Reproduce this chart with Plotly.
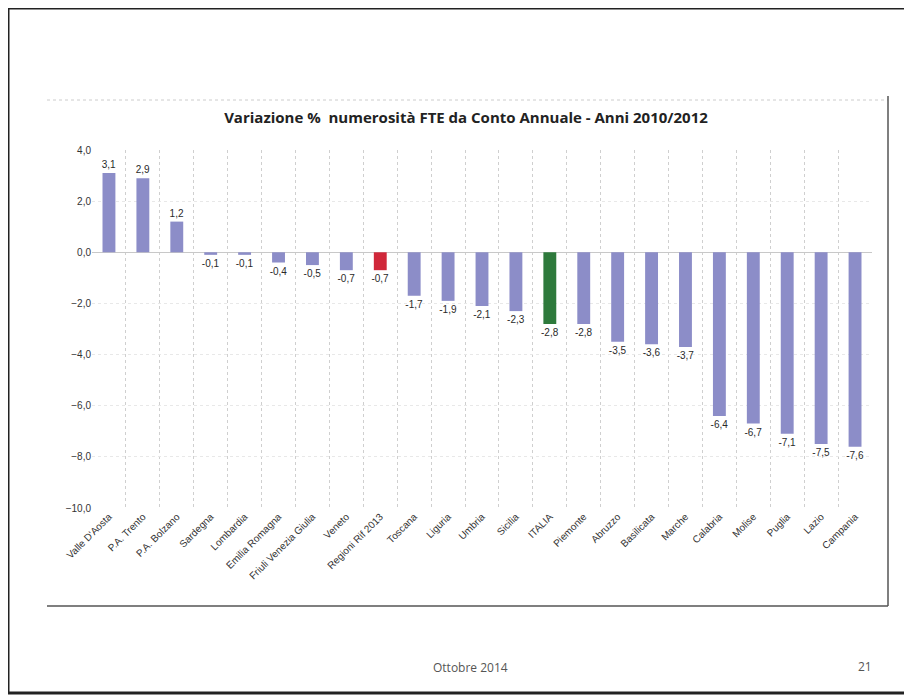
import plotly.graph_objects as go

categories = ["Valle D'Aosta", "P.A. Trento", "P.A. Bolzano", "Sardegna", "Lombardia",
              "Emilia Romagna", "Friuli Venezia Giulia", "Veneto", "Regioni Rif 2013",
              "Toscana", "Liguria", "Umbria", "Sicilia", "ITALIA", "Piemonte", "Abruzzo",
              "Basilicata", "Marche", "Calabria", "Molise", "Puglia", "Lazio", "Campania"]
values = [3.1, 2.9, 1.2, -0.1, -0.1, -0.4, -0.5, -0.7, -0.7, -1.7, -1.9, -2.1, -2.3,
          -2.8, -2.8, -3.5, -3.6, -3.7, -6.4, -6.7, -7.1, -7.5, -7.6]
y_ticks = [4, 2, 0, -2, -4, -6, -8, -10]

BASE = "#8C8DC8"
RED = "#D0283A"
GREEN = "#2E7A3C"
colors = [RED if c == "Regioni Rif 2013" else GREEN if c == "ITALIA" else BASE for c in categories]

# page has an 8px body margin: figure is drawn at (8, 8)
OFF = 8
W, H = 912 - OFF, 696 - OFF
L, R, T, B = 92 - OFF, 40, 150 - OFF, 188
pw, ph = W - L - R, H - T - B


def px(x):
    return (x - OFF - L) / pw


def py(y):
    return (H - B - (y - OFF)) / ph


fig = go.Figure(go.Bar(
    x=categories, y=values, marker=dict(color=colors, line=dict(width=0)),
    texttemplate="%{y:.1f}", textposition="outside", cliponaxis=False,
    constraintext="none",
    textfont=dict(family="Liberation Sans", size=10, color="#2A2A2A"),
    width=0.38,
))

line_dark = dict(color="#222222", width=3)
shapes = [
    # slide frame
    dict(type="line", xref="paper", yref="paper", x0=px(7), x1=px(912), y0=py(8), y1=py(8), line=line_dark),
    dict(type="line", xref="paper", yref="paper", x0=px(8), x1=px(8), y0=py(7), y1=py(694), line=line_dark),
    dict(type="line", xref="paper", yref="paper", x0=px(8), x1=px(912), y0=py(693), y1=py(693), line=line_dark),
    # chart box
    dict(type="line", xref="paper", yref="paper", x0=px(47), x1=px(888), y0=py(100), y1=py(100),
         line=dict(color="#CCCCCC", width=1, dash="dot")),
    dict(type="line", xref="paper", yref="paper", x0=px(888), x1=px(888), y0=py(96), y1=py(606),
         line=dict(color="#555555", width=1.5)),
    dict(type="line", xref="paper", yref="paper", x0=px(47), x1=px(888), y0=py(606), y1=py(606),
         line=dict(color="#555555", width=1.5)),
]

fig.update_layout(
    width=W, height=H,
    margin=dict(l=L, r=R, t=T, b=B),
    paper_bgcolor="white", plot_bgcolor="white",
    separators=",.",
    showlegend=False,
    bargap=0.6,
    font=dict(family="Liberation Sans", color="#333333"),
    title=dict(text="<b>Variazione %  numerosità FTE da Conto Annuale - Anni 2010/2012</b>",
               x=(466 - OFF) / W, xanchor="center", y=1 - (118 - OFF) / H, yanchor="middle",
               yref="container",
               font=dict(family="Open Sans", size=15, color="#222222")),
    xaxis=dict(type="category", tickangle=-45, tickson="boundaries", showgrid=True,
               gridcolor="#CFCFCF", griddash="dot", gridwidth=1, ticks="",
               tickfont=dict(size=10, color="#333333"), showline=False, zeroline=False),
    yaxis=dict(range=[-10, 4], tickvals=y_ticks, tickformat=".1f", showgrid=True,
               gridcolor="#E8E8E8", griddash="dot", zeroline=True, zerolinecolor="#C8C8C8",
               zerolinewidth=1, tickfont=dict(size=10, color="#333333"), ticks="",
               showline=False),
    shapes=shapes,
    annotations=[
        dict(text="Ottobre 2014", xref="paper", yref="paper", x=px(470), y=py(667),
             xanchor="center", yanchor="middle",
             showarrow=False, font=dict(family="Open Sans", size=12, color="#555555")),
        dict(text="21", xref="paper", yref="paper", x=px(865), y=py(666),
             xanchor="center", yanchor="middle",
             showarrow=False, font=dict(family="Open Sans", size=12, color="#555555")),
    ],
)

fig.write_html("out.html")
